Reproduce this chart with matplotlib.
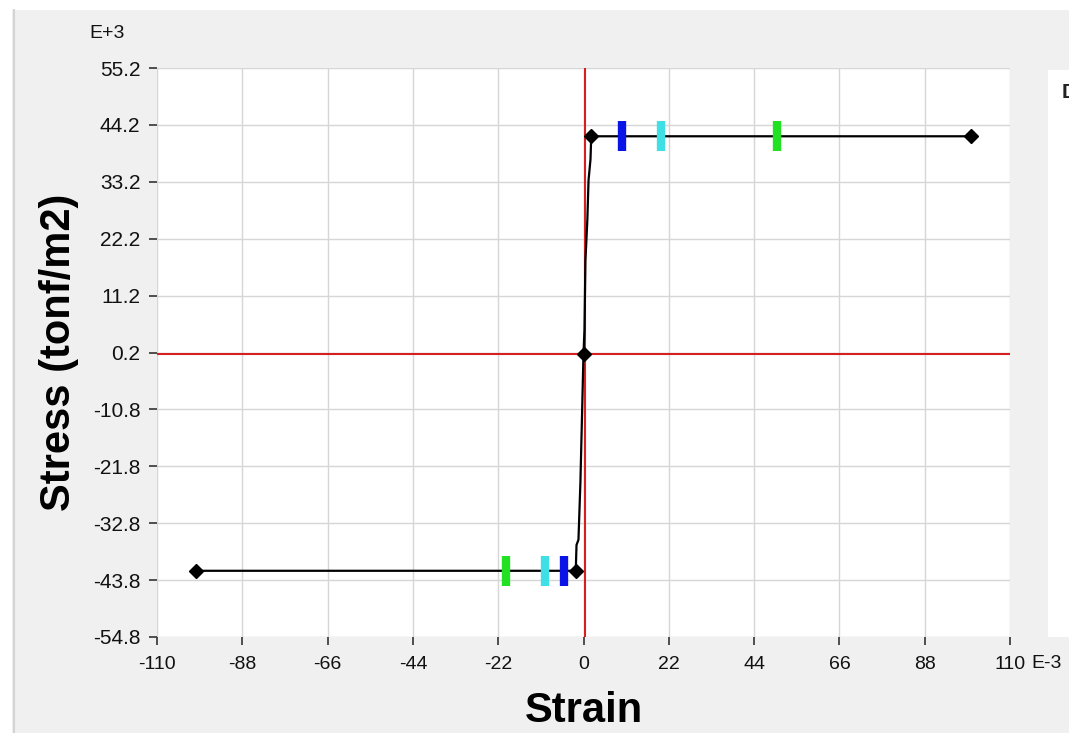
import matplotlib
matplotlib.use("Agg")
import matplotlib.pyplot as plt
from matplotlib.patches import Rectangle
from matplotlib.lines import Line2D

# Stress-strain backbone (strain in E-3, stress in E+3 tonf/m2)
strain = [-100, -2, -1.8, -1.3, -0.8, 0, 0.25, 0.5, 1.0, 1.3, 1.8, 2, 100]
stress = [-42, -42, -37, -36, -25, 0, 4.6, 18, 26, 33.5, 37.5, 42, 42]

# Key points marked with diamonds
key_strain = [-100, -2, 0, 2, 100]
key_stress = [-42, -42, 0, 42, 42]

# Hinge acceptance levels (IO, LS, CP) for each side
level_colors = ["#0a14e6", "#3ee0e6", "#22e022"]
pos_levels = [10, 20, 50]
neg_levels = [-5, -10, -20]

x_ticks = [-110, -88, -66, -44, -22, 0, 22, 44, 66, 88, 110]
y_ticks = [55.2, 44.2, 33.2, 22.2, 11.2, 0.2, -10.8, -21.8, -32.8, -43.8, -54.8]

plt.rcParams["font.family"] = ["Liberation Sans", "DejaVu Sans"]

fig = plt.figure(figsize=(10.69, 7.33), dpi=100, facecolor="white")

# Grey panel behind the chart
fig.patches.append(Rectangle((12 / 1069, 0), 1 - 12 / 1069, 1 - 10 / 733,
                             transform=fig.transFigure, facecolor="#f0f0f0",
                             edgecolor="none", zorder=-10))
fig.lines.append(Line2D([14 / 1069, 14 / 1069], [0, 1 - 10 / 733],
                        transform=fig.transFigure, color="#d4d4d4", lw=1.5))

# Side panel on the right
fig.patches.append(Rectangle((1048 / 1069, 1 - 637 / 733), 0.05, (637 - 70) / 733,
                             transform=fig.transFigure, facecolor="white",
                             edgecolor="none", zorder=-5))
fig.text(1062 / 1069, 1 - 92 / 733, "D", fontsize=15, fontweight="bold",
         color="#222222", va="center", ha="left")

ax = fig.add_axes([157 / 1069, 1 - 637 / 733, (1010 - 157) / 1069, (637 - 68) / 733])
ax.set_facecolor("white")
ax.set_xlim(-110, 110)
ax.set_ylim(-54.8, 55.2)
ax.set_xticks(x_ticks)
ax.set_yticks(y_ticks)
ax.set_xticklabels([str(v) for v in x_ticks], fontsize=14)
ax.set_yticklabels([f"{v:.1f}" for v in y_ticks], fontsize=15)
ax.grid(True, color="#d6d6d6", lw=1.0)
ax.set_axisbelow(True)
for s in ax.spines.values():
    s.set_visible(False)
ax.tick_params(axis="both", colors="#333333", labelcolor="#111111",
               length=6, width=1.2, direction="out")
ax.tick_params(axis="x", pad=8)
ax.tick_params(axis="y", pad=6)

# Red axes through the origin
ax.axhline(0, color="#d42020", lw=1.5, zorder=2)
ax.axvline(0.4, color="#d42020", lw=1.5, zorder=2)

ax.plot(strain, stress, color="black", lw=1.6, zorder=3)
for c, xp, xn in zip(level_colors, pos_levels, neg_levels):
    ax.plot([xp], [42], marker="|", ms=21, mew=6, color=c, zorder=4, ls="none")
    ax.plot([xn], [-42], marker="|", ms=21, mew=6, color=c, zorder=4, ls="none")
ax.plot(key_strain, key_stress, ls="none", marker="D", ms=7, color="black", zorder=5)

ax.set_xlabel("Strain", fontsize=30, fontweight="bold", labelpad=13)
ax.set_ylabel("Stress (tonf/m2)", fontsize=30, fontweight="bold", labelpad=10)

fig.text(1031 / 1069, 1 - 664 / 733, "E-3", fontsize=14,
         color="#111111", ha="left", va="center")
fig.text(107 / 1069, 1 - 33 / 733, "E+3", fontsize=14,
         color="#111111", ha="center", va="center")

fig.savefig("out.png", dpi=100, facecolor=fig.get_facecolor())
